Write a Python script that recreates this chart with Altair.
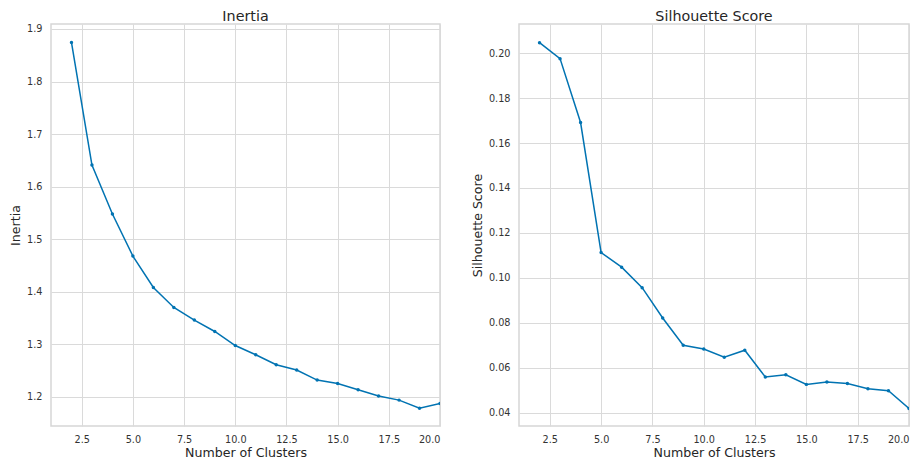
import altair as alt
import pandas as pd

clusters = list(range(2, 21))
inertia = [1.8745, 1.641, 1.5476, 1.4676, 1.4078, 1.3697, 1.3457, 1.324, 1.2973,
           1.2796, 1.2606, 1.2505, 1.2314, 1.225, 1.213, 1.2011, 1.1933, 1.178, 1.1868]
silhouette = [0.2046, 0.1975, 0.1691, 0.1113, 0.1048, 0.0957, 0.0822, 0.0701, 0.0684,
              0.0648, 0.0679, 0.056, 0.0570, 0.0527, 0.0538, 0.0531, 0.0508, 0.0499, 0.042]
x_ticks = [2.5, 5.0, 7.5, 10.0, 12.5, 15.0, 17.5, 20.0]
inertia_ticks = [1.2, 1.3, 1.4, 1.5, 1.6, 1.7, 1.8, 1.9]
sil_ticks = [0.04, 0.06, 0.08, 0.10, 0.12, 0.14, 0.16, 0.18, 0.20]

df = pd.DataFrame({"k": clusters, "inertia": inertia, "sil": silhouette})

COLOR = "#0173b2"


def panel(field, title, ytitle, domain, ticks, fmt, width):
    base = alt.Chart(df)
    x = alt.X("k:Q", scale=alt.Scale(domain=[1, 20], nice=False, zero=False),
              axis=alt.Axis(values=x_ticks, format=".1f", title="Number of Clusters"))
    y = alt.Y(f"{field}:Q", scale=alt.Scale(domain=domain, nice=False, zero=False),
              axis=alt.Axis(values=ticks, format=fmt, title=ytitle))
    line = base.mark_line(color=COLOR, strokeWidth=1.5, clip=True).encode(x=x, y=y)
    pts = base.mark_circle(color=COLOR, size=12, opacity=1, clip=True).encode(x=x, y=y)
    return (line + pts).properties(
        width=width, height=402,
        title=alt.TitleParams(title, dy=-3, offset=-3)
    )


left = panel("inertia", "Inertia", "Inertia", [1.144, 1.9095], inertia_ticks, ".1f", 389)
right = panel("sil", "Silhouette Score", "Silhouette Score", [0.0342, 0.2129], sil_ticks, ".2f", 390)

chart = alt.hconcat(left, right, spacing=29).properties(
    padding={"left": 0, "top": 0, "right": 0, "bottom": 0}
).configure(
    font="DejaVu Sans"
).configure_view(
    stroke="#d6d6d6", strokeWidth=1.5
).configure_axis(
    domain=False, ticks=False, grid=True, gridColor="#dadada", gridWidth=1,
    labelFont="DejaVu Sans", labelFontSize=9.7, labelColor="#333333", labelPadding=9,
    labelOverlap=False,
    titleFont="DejaVu Sans", titleFontSize=12.6, titleColor="#262626", titleFontWeight="normal",
    titlePadding=4
).configure_axisX(
    labelPadding=8, titlePadding=3
).configure_title(
    font="DejaVu Sans", fontSize=14.3, fontWeight="normal", color="#262626"
)

chart.save("out.html", embed_options={"renderer": "svg", "actions": False})
